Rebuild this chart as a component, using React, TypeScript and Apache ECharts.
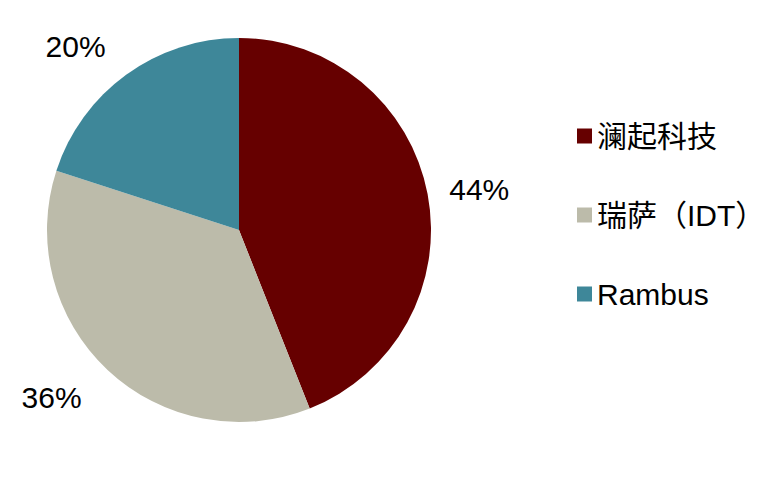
import { useEffect, useRef } from "react";
import * as echarts from "echarts";

// 市场份额
const names = ["澜起科技", "瑞萨（IDT）", "Rambus"];
const shares = [44, 36, 20];
const colors = ["#660000", "#BCBBAA", "#3E8799"];
const lineLens = [22, 38, 35];

export default function App() {
  const ref = useRef<HTMLDivElement>(null);

  useEffect(() => {
    document.body.style.margin = "0";
    if (!ref.current) return;
    const chart = echarts.init(ref.current, null, { renderer: "svg" });
    chart.setOption({
      animation: false,
      backgroundColor: "#ffffff",
      textStyle: { fontFamily: "'Liberation Sans', Arial, 'Noto Sans CJK SC', sans-serif" },
      legend: {
        orient: "vertical",
        left: 572,
        top: 115,
        itemWidth: 15,
        itemHeight: 15,
        itemGap: 47,
        icon: "rect",
        textStyle: { fontSize: 30, color: "#000", lineHeight: 32 },
        data: names,
      },
      series: [
        {
          type: "pie",
          center: [239, 230],
          radius: 192,
          startAngle: 90,
          clockwise: true,
          avoidLabelOverlap: false,
          label: {
            show: true,
            position: "outside",
            formatter: "{d}%",
            fontSize: 30,
            color: "#000",
            distanceToLabelLine: 0,
          },
          itemStyle: { borderWidth: 0 },
          emphasis: { disabled: true },
          data: names.map((n, i) => ({
            name: n,
            value: shares[i],
            itemStyle: { color: colors[i] },
            labelLine: { show: false, length: lineLens[i], length2: 0 },
          })),
        },
      ],
    });
    return () => chart.dispose();
  }, []);

  return <div ref={ref} style={{ width: 772, height: 477 }} />;
}
